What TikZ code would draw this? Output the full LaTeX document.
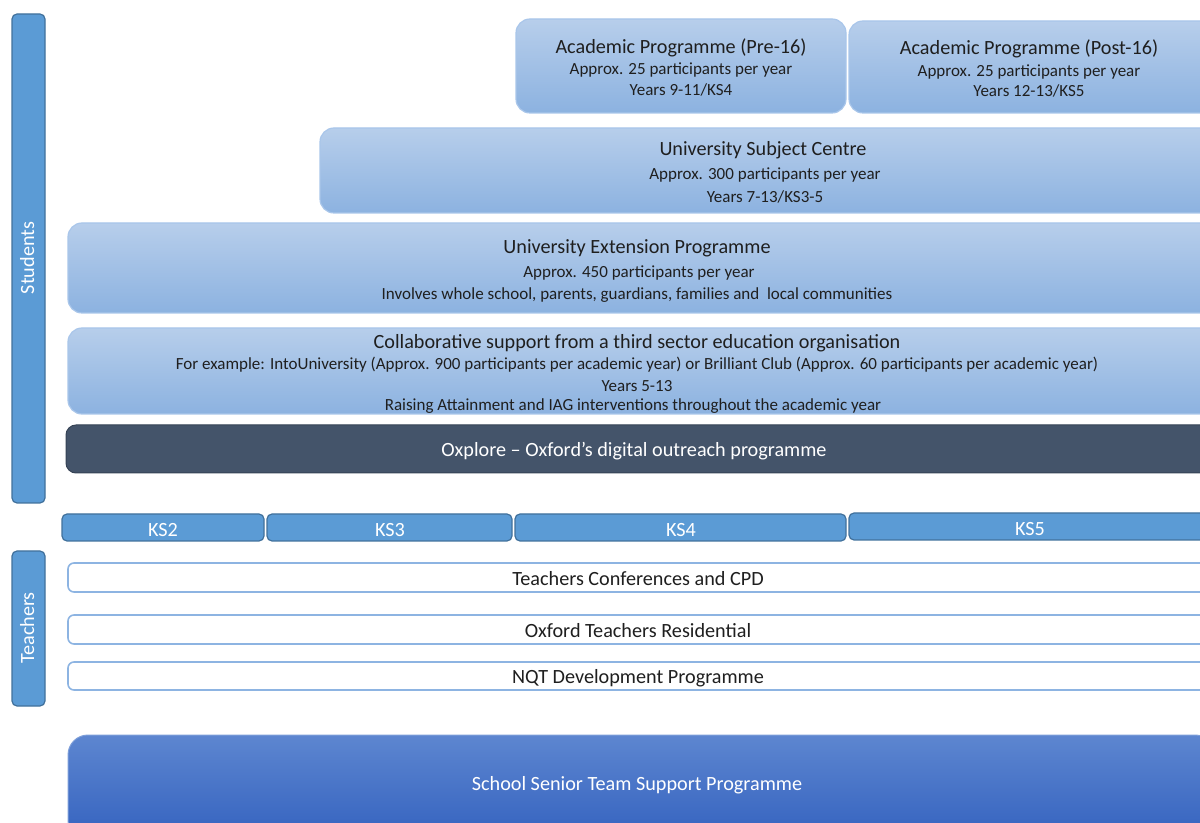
\documentclass[tikz,border=0pt]{standalone}
\usepackage{fontspec}
\setmainfont{Carlito}
\begin{document}
\begin{tikzpicture}[x=0.5pt,y=-0.5pt,
  every node/.append style={yshift=-0.9pt},
  lightbox/.style={rounded corners=7pt, draw=lbedge, line width=0.6pt,
    top color=lbtop, bottom color=lbbot},
  sidebar/.style={rounded corners=2.5pt, draw=sideedge, fill=sidefill, line width=0.6pt},
  ksbox/.style={rounded corners=2.5pt, draw=sideedge, fill=sidefill, line width=0.6pt},
  teachbox/.style={rounded corners=3pt, draw=tedge, fill=white, line width=0.8pt},
  ttl/.style={font=\fontsize{10.1}{12}\selectfont, text=black!88},
  sub/.style={font=\fontsize{8.5}{10}\selectfont, text=black!88},
  wlabel/.style={font=\fontsize{10.1}{12}\selectfont, text=white},
]
\definecolor{lbtop}{HTML}{B7CEEB}
\definecolor{lbbot}{HTML}{8CB2E0}
\definecolor{lbedge}{HTML}{A9C6EA}
\definecolor{sidefill}{HTML}{5B9BD5}
\definecolor{sideedge}{HTML}{41719C}
\definecolor{tedge}{HTML}{8DB4E2}
\definecolor{darkbar}{HTML}{44546A}
\definecolor{sstop}{HTML}{5D86D0}
\definecolor{ssbot}{HTML}{3462BF}
\useasboundingbox (0,0) rectangle (1200,823);
\clip (0,0) rectangle (1200,823);

% side bars
\draw[sidebar] (12,14) rectangle (45,503);
\node[wlabel, rotate=90, xshift=0.9pt, yshift=0.9pt] (stud) at (29,258) {Students};
\draw[sidebar] (12,551) rectangle (45,706);
\node[wlabel, rotate=90, xshift=0.9pt, yshift=0.9pt] (teach) at (29,628) {Teachers};

% student programmes
\draw[lightbox] (516,19) rectangle (846,113);
\node[ttl] (pre) at (681,46) {Academic Programme (Pre-16)};
\node[sub] (pre1) at (681,68) {Approx. 25 participants per year};
\node[sub] (pre2) at (681,88) {Years 9-11/KS4};

\draw[lightbox] (849,21) rectangle (1215,113);
\node[ttl] (post) at (1029,47) {Academic Programme (Post-16)};
\node[sub] (post1) at (1029,70) {Approx. 25 participants per year};
\node[sub] (post2) at (1029,89) {Years 12-13/KS5};

\draw[lightbox] (320,128) rectangle (1215,213);
\node[ttl] (usc) at (763,148) {University Subject Centre};
\node[sub] (usc1) at (765,173) {Approx. 300 participants per year};
\node[sub] (usc2) at (765,195) {Years 7-13/KS3-5};

\draw[lightbox] (68,223) rectangle (1215,313);
\node[ttl] (uep) at (637,246) {University Extension Programme};
\node[sub] (uep1) at (639,271) {Approx. 450 participants per year};
\node[sub] (uep2) at (637,293) {Involves whole school, parents, guardians, families and\ \ local communities};

\draw[lightbox] (68,328) rectangle (1215,414);
\node[ttl] (col) at (637,341) {Collaborative support from a third sector education organisation};
\node[sub] (col1) at (637,363) {For example: IntoUniversity (Approx. 900 participants per academic year) or Brilliant Club (Approx. 60 participants per academic year)};
\node[sub] (col2) at (637,384) {Years 5-13};
\node[sub] (col3) at (633,404) {Raising Attainment and IAG interventions throughout the academic year};

\draw[rounded corners=5pt, fill=darkbar, draw=darkbar!80!black, line width=0.5pt] (66,425) rectangle (1215,473);
\node[wlabel] (oxp) at (634,449) {Oxplore – Oxford’s digital outreach programme};

% key stages
\draw[ksbox] (62,514) rectangle (264,541);
\node[wlabel] (ks2) at (163,528) {KS2};
\draw[ksbox] (267,514) rectangle (512,541);
\node[wlabel] (ks3) at (390,528) {KS3};
\draw[ksbox] (515,514) rectangle (846,541);
\node[wlabel] (ks4) at (681,528) {KS4};
\draw[ksbox] (849,513) rectangle (1215,540);
\node[wlabel] (ks5) at (1030,527) {KS5};

% teacher programmes
\draw[teachbox] (68,563) rectangle (1215,592);
\node[ttl] (tcc) at (638,577) {Teachers Conferences and CPD};
\draw[teachbox] (68,615) rectangle (1215,644);
\node[ttl] (otr) at (638,629) {Oxford Teachers Residential};
\draw[teachbox] (68,662) rectangle (1215,690);
\node[ttl] (nqt) at (638,676) {NQT Development Programme};

% senior team
\draw[rounded corners=10pt, top color=sstop, bottom color=ssbot, draw=sstop!80!white, line width=0.5pt] (68,735) rectangle (1215,840);
\node[wlabel] (sst) at (637,783) {School Senior Team Support Programme};
\end{tikzpicture}
\end{document}
